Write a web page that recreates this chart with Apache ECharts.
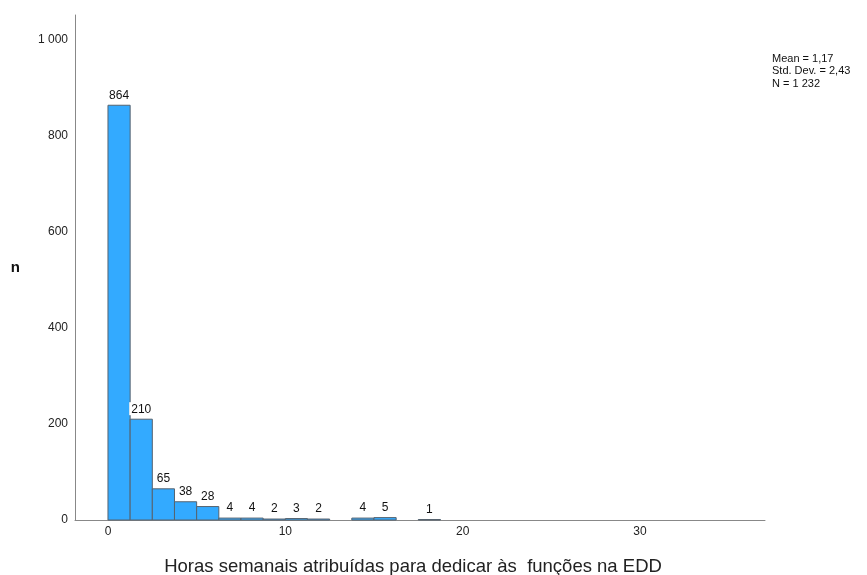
<!DOCTYPE html>
<html><head><meta charset="utf-8">
<script src="https://cdn.jsdelivr.net/npm/echarts@6/dist/echarts.min.js"></script>
<style>html,body{margin:0;padding:0;background:#fff;overflow:hidden}#c{width:867px;height:575px}</style>
</head><body><div id="c"></div>
<script>
const binStarts = [0, 1.25, 2.5, 3.75, 5, 6.25, 7.5, 8.75, 10, 11.25, 13.75, 15, 17.5];
const binWidth = 1.25;
const counts = [864, 210, 65, 38, 28, 4, 4, 2, 3, 2, 4, 5, 1];
const xTicks = [0, 10, 20, 30];
const statsLines = ['Mean = 1,17', 'Std. Dev. = 2,43', 'N = 1 232'];
const xTitle = 'Horas semanais atribuídas para dedicar às  funções na EDD';
const yTitle = 'n';

const data = binStarts.map((s, i) => [s, s + binWidth, counts[i]]);
const chart = echarts.init(document.getElementById('c'), null, {renderer: 'canvas'});
const fmt = v => String(v).replace(/\B(?=(\d{3})+(?!\d))/g, ' ');
chart.setOption({
  animation: false,
  textStyle: {fontFamily: 'Liberation Sans, Arial, sans-serif'},
  grid: {left: 75, right: 102, top: 15, bottom: 55, containLabel: false, outerBoundsMode: 'none'},
  xAxis: {
    type: 'value', min: -1.86, max: 37.05,
    axisLine: {onZero: false, lineStyle: {color: '#888', width: 1}},
    axisTick: {show: false},
    splitLine: {show: false},
    axisLabel: {customValues: xTicks, color: '#222', fontSize: 12, margin: 6},
    name: xTitle, nameLocation: 'middle', nameGap: 37,
    nameTextStyle: {color: '#222', fontSize: 18.5, padding: [0, 14, 0, 0]}
  },
  yAxis: {
    type: 'value', min: 0, max: 1052, interval: 200,
    axisLine: {show: true, onZero: false, lineStyle: {color: '#888', width: 1}},
    axisTick: {show: false},
    splitLine: {show: false},
    axisLabel: {color: '#222', fontSize: 12, margin: 7, showMaxLabel: false, formatter: fmt},
    name: yTitle, nameLocation: 'middle', nameGap: 55, nameRotate: 0,
    nameTextStyle: {color: '#111', fontSize: 15, fontWeight: 'bold'}
  },
  series: [{
    type: 'custom',
    data: data,
    renderItem: function (params, api) {
      const p0 = api.coord([api.value(0), api.value(2)]);
      const p1 = api.coord([api.value(1), 0]);
      return {
        type: 'group',
        children: [{
          type: 'rect',
          shape: {x: p0[0], y: p0[1], width: p1[0] - p0[0], height: p1[1] - p0[1]},
          style: {fill: '#33aaff', stroke: '#56636f', lineWidth: 1}
        }, {
          type: 'text',
          z2: 10,
          style: {
            text: String(api.value(2)), x: (p0[0] + p1[0]) / 2, y: p0[1] - 4,
            align: 'center', verticalAlign: 'bottom',
            fill: '#111', fontSize: 12, fontFamily: 'Liberation Sans, Arial, sans-serif',
            backgroundColor: '#fff', padding: [1, 2, 0, 2]
          }
        }]
      };
    }
  }],
  graphic: statsLines.map((t, i) => ({
    type: 'text', left: 772, top: 53 + i * 12.5,
    style: {text: t, fill: '#111', fontSize: 11, fontFamily: 'Liberation Sans, Arial, sans-serif'}
  }))
});
</script></body></html>
